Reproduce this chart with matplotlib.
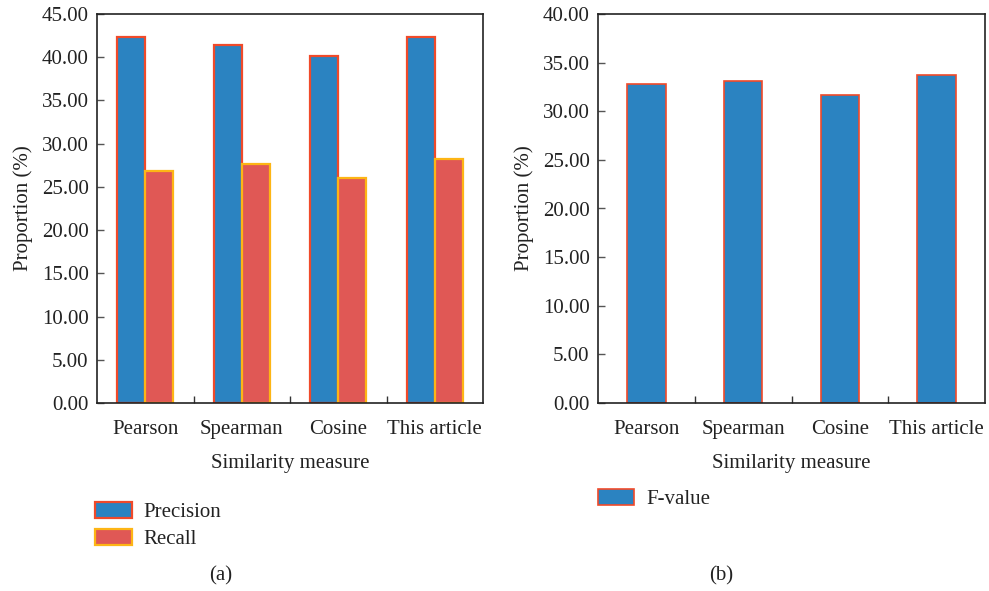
import matplotlib
matplotlib.use("Agg")
import matplotlib.pyplot as plt
import numpy as np
from matplotlib.patches import Patch

categories = ["Pearson", "Spearman", "Cosine", "This article"]
precision = [42.38, 41.42, 40.19, 42.35]
recall = [26.85, 27.61, 26.00, 28.19]
f_value = [32.82, 33.09, 31.62, 33.68]
yticks_a = [0, 5, 10, 15, 20, 25, 30, 35, 40, 45]
yticks_b = [0, 5, 10, 15, 20, 25, 30, 35, 40]

plt.rcParams['font.family'] = ['Liberation Serif', 'DejaVu Serif']
FS = 15
TXT = '#222222'
BLUE = '#2B83C1'
CORAL = '#E05855'
EDGE_R = '#F04A2A'
EDGE_Y = '#FDB515'

W, H = 989, 591
fig = plt.figure(figsize=(W / 100, H / 100), dpi=100)

def px_axes(l, t, r, b):
    return fig.add_axes([l / W, 1 - b / H, (r - l) / W, (b - t) / H])

def style(ax, ymax, yt):
    ax.set_xlim(-0.5, len(categories) - 0.5)
    ax.set_ylim(0, ymax)
    ax.set_yticks(yt)
    ax.set_yticklabels([f"{v:.2f}" for v in yt], fontsize=FS, color=TXT)
    ax.set_xticks(np.arange(len(categories)))
    ax.set_xticklabels(categories, fontsize=FS, color=TXT)
    ax.tick_params(axis='x', which='major', length=0, pad=12)
    ax.set_xticks(np.arange(len(categories) - 1) + 0.5, minor=True)
    ax.tick_params(axis='x', which='minor', direction='in', length=5, width=1, color='#333333')
    ax.tick_params(axis='y', direction='in', length=5, width=1, color='#555555', pad=6)
    for s in ax.spines.values():
        s.set_color('#222222')
        s.set_linewidth(1.2)
    ax.set_xlabel("Similarity measure", fontsize=FS, color=TXT, labelpad=11)
    ax.set_ylabel("Proportion (%)", fontsize=FS, color=TXT, labelpad=6)

# Panel (a)
ax1 = px_axes(97, 14, 483, 403)
x = np.arange(len(categories))
bw = 0.29
ax1.bar(x - bw / 2, precision, bw, color=BLUE, edgecolor=EDGE_R, linewidth=1.6, label='Precision')
ax1.bar(x + bw / 2, recall, bw, color=CORAL, edgecolor=EDGE_Y, linewidth=1.6, label='Recall')
style(ax1, 45, yticks_a)
h1 = [Patch(facecolor=BLUE, edgecolor=EDGE_R, linewidth=1.6),
      Patch(facecolor=CORAL, edgecolor=EDGE_Y, linewidth=1.6)]
ax1.legend(h1, ['Precision', 'Recall'], loc='upper left', bbox_to_anchor=(-0.005, -0.255),
           frameon=False, fontsize=FS, handlelength=1.75, handleheight=0.8,
           labelspacing=0.3, handletextpad=0.55, borderaxespad=0, borderpad=0,
           labelcolor=TXT)

# Panel (b)
ax2 = px_axes(598, 14, 985, 403)
ax2.bar(x, f_value, 0.4, color=BLUE, edgecolor=EDGE_R, linewidth=1.2, label='F-value')
style(ax2, 40, yticks_b)
h2 = [Patch(facecolor=BLUE, edgecolor=EDGE_R, linewidth=1.2)]
ax2.legend(h2, ['F-value'], loc='upper left', bbox_to_anchor=(0.0, -0.22),
           frameon=False, fontsize=FS, handlelength=1.75, handleheight=0.8,
           handletextpad=0.55, borderaxespad=0, borderpad=0, labelcolor=TXT)

fig.text(221 / W, 1 - 576 / H, "(a)", fontsize=FS, color=TXT, ha='center', va='center')
fig.text(721 / W, 1 - 576 / H, "(b)", fontsize=FS, color=TXT, ha='center', va='center')

fig.savefig("out.png", dpi=100)
